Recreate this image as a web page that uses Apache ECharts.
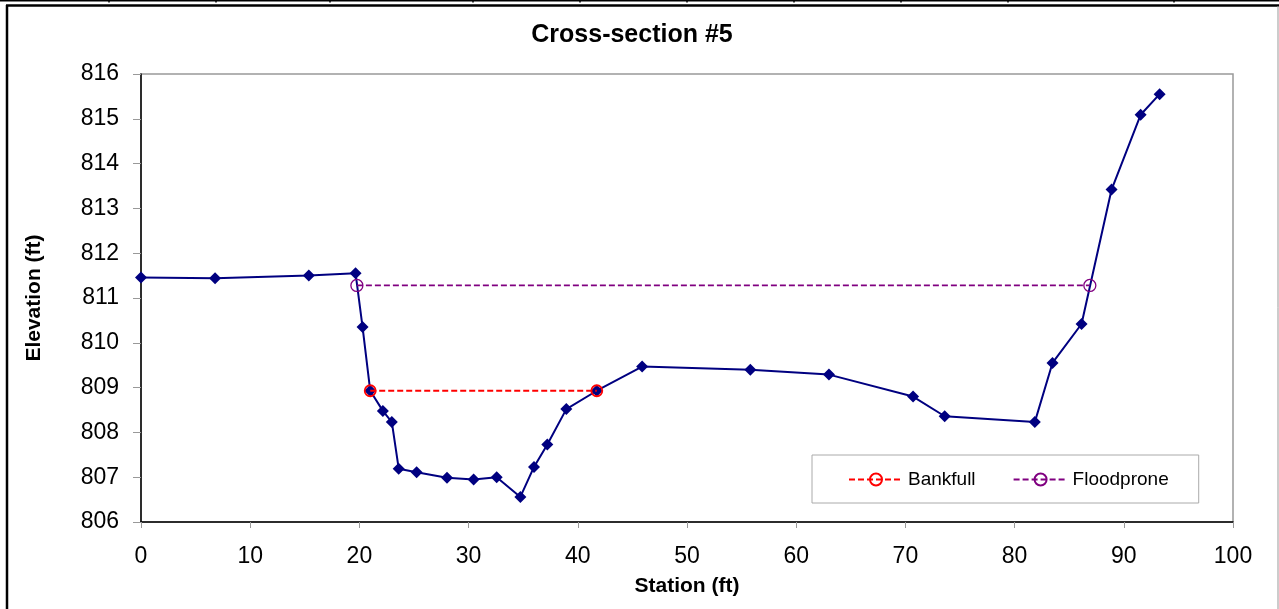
<!DOCTYPE html>
<html>
<head>
<meta charset="utf-8">
<script src="https://cdn.jsdelivr.net/npm/echarts@6/dist/echarts.min.js"></script>
<style>
html,body{margin:0;padding:0;background:#fff;}
#c{width:1279px;height:609px;}
</style>
</head>
<body>
<div id="c"></div>
<script>
// Ground survey points: station (ft) and elevation (ft)
const station = [0, 6.78, 15.37, 19.65, 20.29, 20.99, 22.15, 22.97, 23.6, 25.24, 28.02, 30.46, 32.57, 34.74, 35.99, 37.21, 38.95, 41.74, 45.89, 55.8, 63.0, 70.7, 73.6, 81.85, 83.47, 86.13, 88.88, 91.54, 93.28];
const elevation = [811.46, 811.44, 811.50, 811.55, 810.35, 808.93, 808.48, 808.23, 807.19, 807.11, 806.99, 806.95, 807.00, 806.56, 807.23, 807.73, 808.52, 808.93, 809.47, 809.40, 809.29, 808.80, 808.36, 808.23, 809.55, 810.42, 813.42, 815.09, 815.55];
const bankfullStation = [20.99, 41.74];
const bankfullElev = [808.93, 808.93];
const floodStation = [19.77, 86.89];
const floodElev = [811.28, 811.28];
const xTicks = [0, 10, 20, 30, 40, 50, 60, 70, 80, 90, 100];
const yTicks = [806, 807, 808, 809, 810, 811, 812, 813, 814, 815, 816];
const topMarks = [109, 216, 330, 473, 580, 687, 794, 901, 1008, 1174];

const FONT = "'Liberation Sans', Arial, sans-serif";
const zip = (a, b) => a.map((v, i) => [v, b[i]]);

const chart = echarts.init(document.getElementById('c'), null, {renderer: 'canvas'});

const graphics = [
  {type: 'line', shape: {x1: 0, y1: 0.75, x2: 1279, y2: 0.75}, style: {stroke: '#000', lineWidth: 1.5}, silent: true},
  {type: 'line', shape: {x1: 6, y1: 5.5, x2: 1279, y2: 5.5}, style: {stroke: '#000', lineWidth: 2.5}, silent: true},
  {type: 'line', shape: {x1: 7, y1: 5, x2: 7, y2: 609}, style: {stroke: '#000', lineWidth: 2.5}, silent: true},
  {type: 'line', shape: {x1: 1278, y1: 6, x2: 1278, y2: 609}, style: {stroke: '#999', lineWidth: 1}, silent: true}
];
topMarks.forEach(x => graphics.push({type: 'line', shape: {x1: x, y1: 0, x2: x, y2: 2.5}, style: {stroke: '#000', lineWidth: 1.5}, silent: true}));

chart.setOption({
  animation: false,
  backgroundColor: '#fff',
  textStyle: {fontFamily: FONT},
  title: {
    text: 'Cross-section #5',
    left: 627, top: 18, textAlign: 'center',
    textStyle: {fontFamily: FONT, fontSize: 25, fontWeight: 'bold', color: '#000'}
  },
  grid: {
    left: 141, right: 46, top: 74, bottom: 87,
    show: true, borderColor: '#999', borderWidth: 1.5, backgroundColor: 'transparent'
  },
  legend: {
    left: 812, top: 455,
    orient: 'horizontal',
    padding: [15, 30, 14, 36],
    itemGap: 37,
    itemWidth: 54, itemHeight: 15,
    borderColor: '#aaa', borderWidth: 1,
    textStyle: {fontFamily: FONT, fontSize: 19, color: '#000'},
    data: ['Bankfull', 'Floodprone']
  },
  xAxis: {
    type: 'value', min: 0, max: 100, interval: 10,
    name: 'Station (ft)', nameLocation: 'middle', nameGap: 54,
    nameTextStyle: {fontFamily: FONT, fontSize: 21, fontWeight: 'bold', color: '#000'},
    axisLine: {show: true, onZero: false, lineStyle: {color: '#000', width: 1.5}},
    axisTick: {show: true, length: 6, lineStyle: {color: '#999', width: 1}},
    axisLabel: {fontFamily: FONT, fontSize: 23, color: '#000', margin: 23, formatter: v => xTicks.includes(v) ? String(v) : ''},
    splitLine: {show: false}
  },
  yAxis: {
    type: 'value', min: 806, max: 816, interval: 1,
    name: 'Elevation (ft)', nameLocation: 'middle', nameGap: 96, nameRotate: 90,
    nameTextStyle: {fontFamily: FONT, fontSize: 21, fontWeight: 'bold', color: '#000'},
    axisLine: {show: true, lineStyle: {color: '#000', width: 1.5}},
    axisTick: {show: true, length: 8, lineStyle: {color: '#999', width: 1}},
    axisLabel: {fontFamily: FONT, fontSize: 23, color: '#000', margin: 22, padding: [5, 0, 0, 0], formatter: v => yTicks.includes(v) ? String(v) : ''},
    splitLine: {show: false}
  },
  series: [
    {
      name: 'Ground', type: 'line', z: 2,
      data: zip(station, elevation),
      symbol: 'diamond', symbolSize: 12,
      lineStyle: {color: '#000080', width: 2},
      itemStyle: {color: '#000080'}
    },
    {
      name: 'Bankfull', type: 'line', z: 3,
      data: zip(bankfullStation, bankfullElev),
      symbol: 'circle', symbolSize: 11,
      lineStyle: {color: '#ff0000', width: 2, type: [6, 3]},
      itemStyle: {color: 'transparent', borderColor: '#ff0000', borderWidth: 1.8}
    },
    {
      name: 'Floodprone', type: 'line', z: 3,
      data: zip(floodStation, floodElev),
      symbol: 'circle', symbolSize: 12,
      lineStyle: {color: '#800080', width: 1.8, type: [6, 3]},
      itemStyle: {color: 'transparent', borderColor: '#800080', borderWidth: 1.3}
    }
  ],
  graphic: graphics
});
</script>
</body>
</html>
